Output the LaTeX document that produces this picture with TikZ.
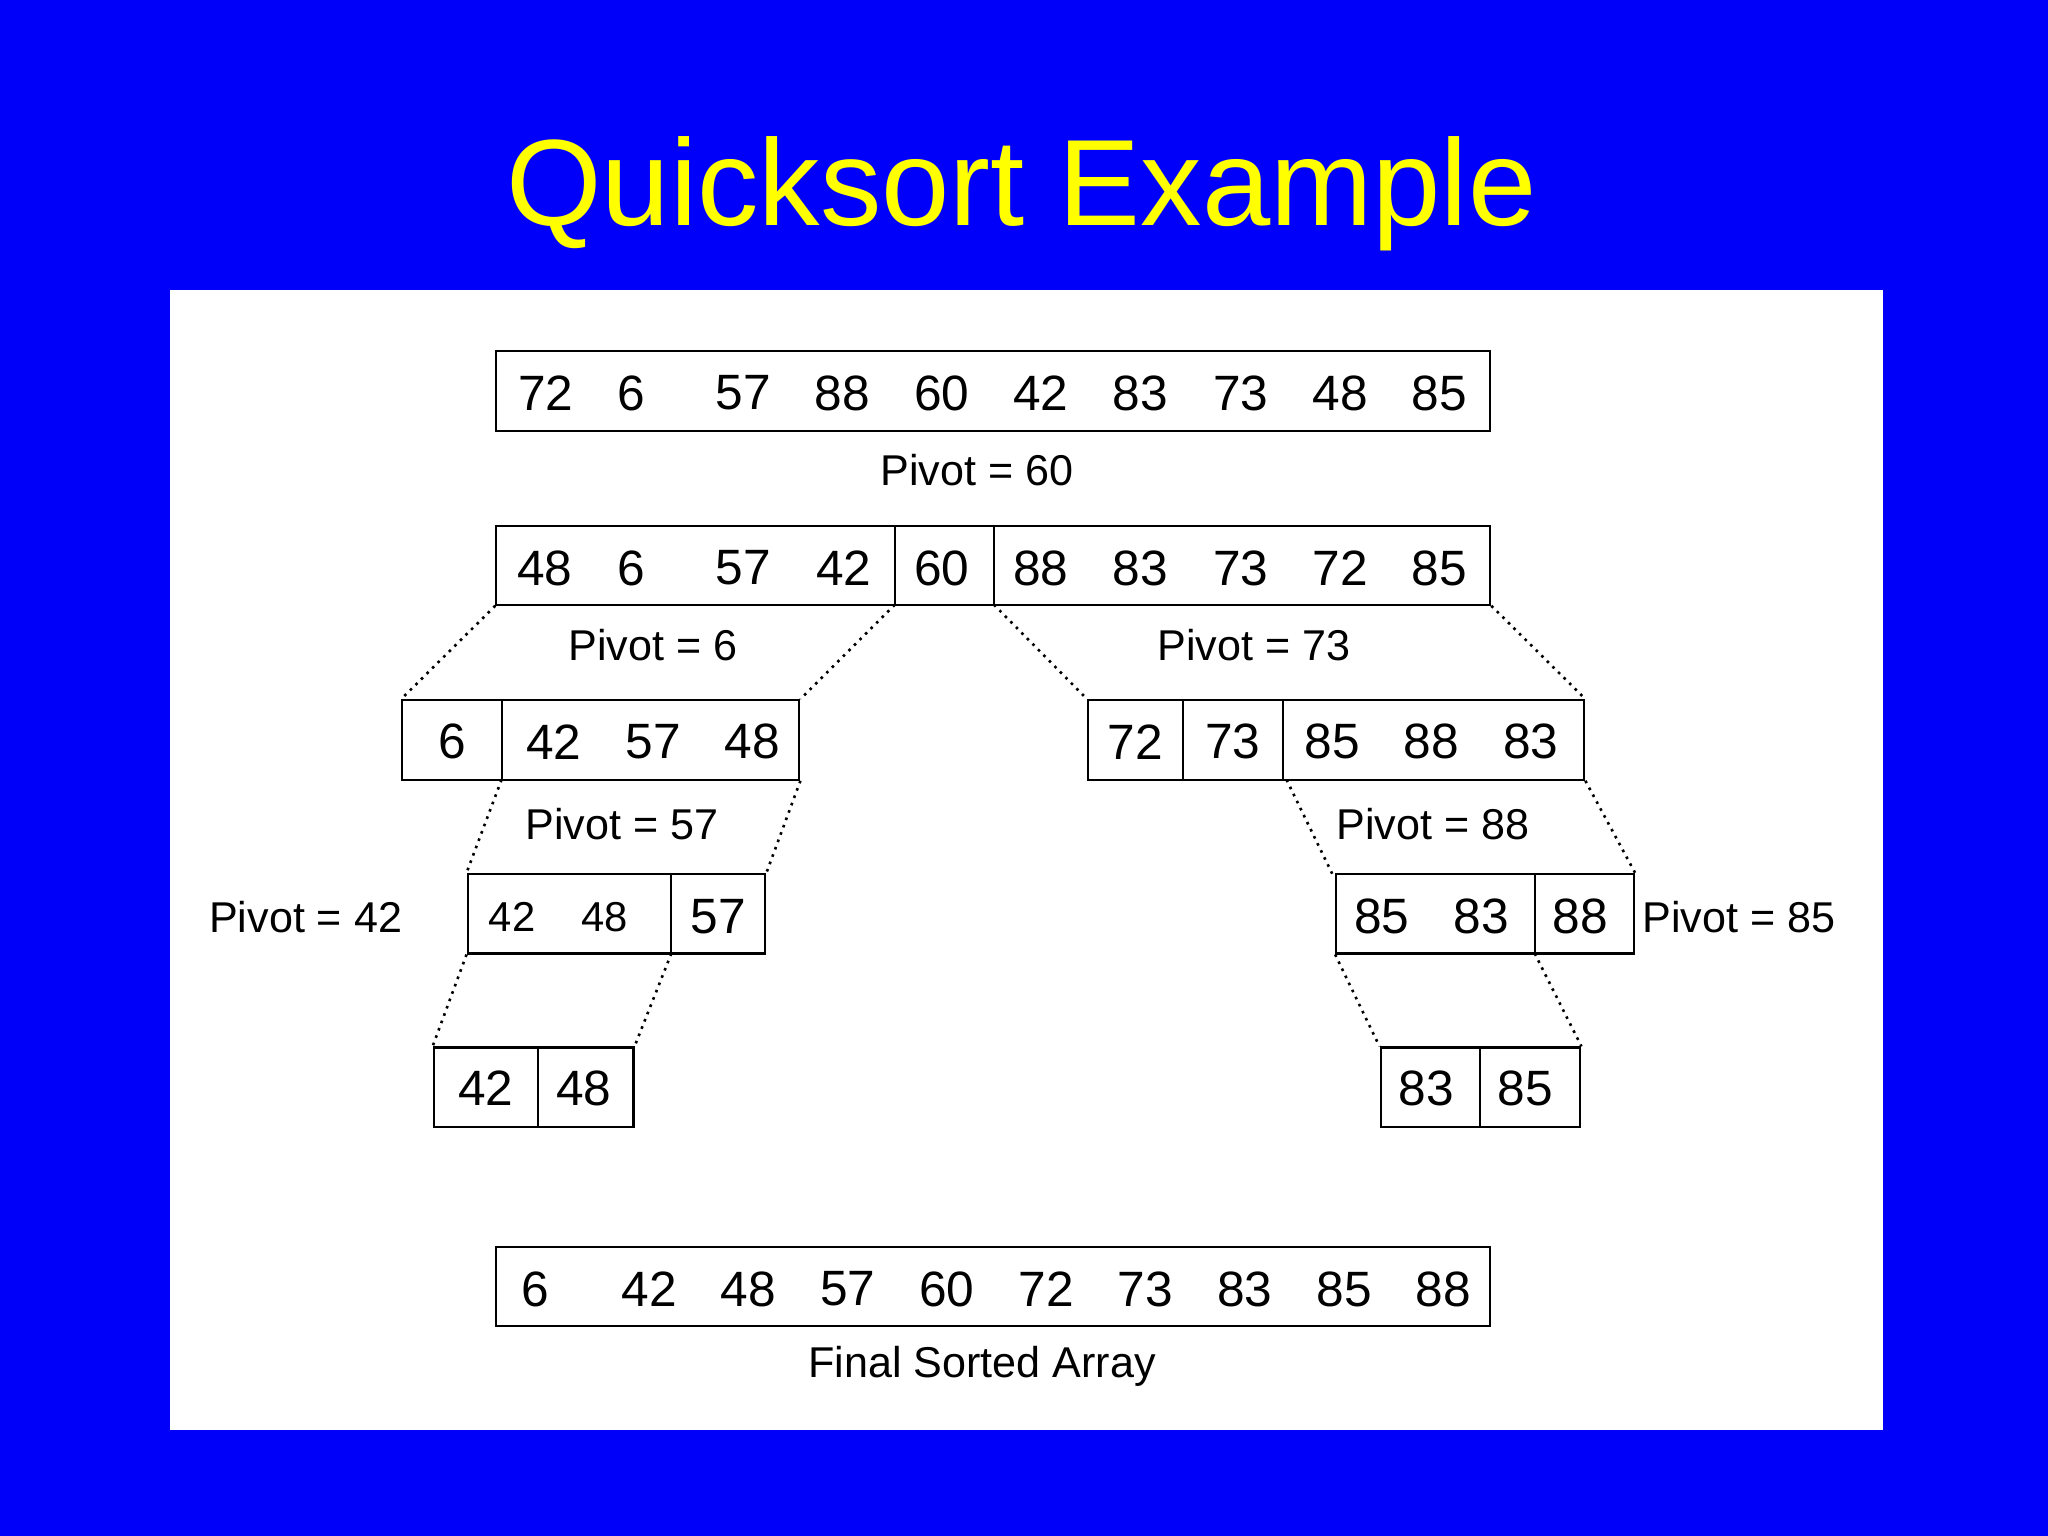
\documentclass[tikz,border=0pt]{standalone}
\usepackage{fontspec}
\setmainfont{Liberation Sans}
\definecolor{bg}{RGB}{0,0,250}
\definecolor{ttl}{RGB}{255,255,0}
\tikzset{
  box/.style={draw=black, line width=0.8pt, inner sep=0pt, fill=none},
  num/.style={font=\fontsize{19}{20}\selectfont, inner sep=0pt},
  sm/.style={font=\fontsize{16}{18}\selectfont, inner sep=0pt},
  lab/.style={font=\fontsize{16.5}{18}\selectfont, inner sep=0pt},
  dots/.style={dotted, line width=1pt},
  dv/.style={line width=0.8pt}
}
\newcommand{\bx}[5]{\node[box, minimum width={(#4-#2)*0.5pt}, minimum height={(#5-#3)*0.5pt}] (#1) at ({(#2+#4)/2},{(#3+#5)/2}) {};}
\newcommand{\nums}[3]{\foreach \xx/\tt [count=\k] in {#3} {\node[num] (#1\k) at (\xx,#2) {\tt};}}
\begin{document}
\begin{tikzpicture}[x=0.5pt,y=-0.5pt]
\fill[bg] (0,0) rectangle (1568,1176);
\useasboundingbox (0,0) rectangle (1568,1176);
\fill[white] (130,222) rectangle (1442,1095);
\node[font=\fontsize{47}{50}\selectfont, text=ttl] (title) at (782,148) {Quicksort Example};
% row 1
\bx{r1}{380}{269}{1141}{330}
\nums{a}{301}{418/72,483/6,569/57,645/88,721/60,797/42,873/83,950/73,1026/48,1102/85}
\node[lab] (p60) at (748,360) {Pivot = 60};
% row 2
\bx{r2}{380}{403}{1141}{463}
\draw[dv] (685,403) -- (685,463) (761,403) -- (761,463);
\nums{b}{435}{417/48,483/6,569/57,646/42,721/60,797/88,873/83,950/73,1026/72,1102/85}
\node[lab] (p6) at (500,494) {Pivot = 6};
\node[lab] (p73) at (960,494) {Pivot = 73};
% row 3
\bx{l3}{308}{536}{612}{597}
\draw[dv] (384,536) -- (384,597);
\nums{c}{568}{346/6,424/42,500/57,576/48}
\bx{r3}{833}{536}{1213}{597}
\draw[dv] (906,536) -- (906,597) (982,536) -- (982,597);
\nums{d}{568}{869/72,944/73,1020/85,1096/88,1172/83}
\draw[dots] (r2.south west) -- (l3.north west);
\draw[dots] (685,463) -- (l3.north east);
\draw[dots] (761,463) -- (r3.north west);
\draw[dots] (r2.south east) -- (r3.north east);
\node[lab] (p57) at (476,631) {Pivot = 57};
\node[lab] (p88) at (1097,631) {Pivot = 88};
% row 4
\bx{l4}{358}{669}{586}{730}
\draw[dv] (514,669) -- (514,730);
\node[sm] (e1) at (392,702) {42};
\node[sm] (e2) at (463,702) {48};
\node[num] (e3) at (550,702) {57};
\node[lab] (p42) at (234,702) {Pivot = 42};
\bx{r4}{1023}{669}{1251}{730}
\draw[dv] (1175,669) -- (1175,730);
\nums{f}{702}{1058/85,1134/83,1210/88}
\node[lab, anchor=west] (p85) at (1257,702) {Pivot = 85};
\draw[dots] (384,597) -- (l4.north west);
\draw[dots] (l3.south east) -- (l4.north east);
\draw[dots] (985,597) -- (1020,669);
\draw[dots] (r3.south east) -- (r4.north east);
% row 5
\bx{l5}{332}{802}{485}{863}
\draw[dv] (412,802) -- (412,863);
\nums{g}{833}{372/42,447/48}
\bx{r5}{1057}{802}{1210}{863}
\draw[dv] (1133,802) -- (1133,863);
\nums{h}{833}{1092/83,1168/85}
\draw[dots] (l4.south west) -- (l5.north west);
\draw[dots] (514,730) -- (l5.north east);
\draw[dots] (r4.south west) -- (r5.north west);
\draw[dots] (1175,730) -- (r5.north east);
% final
\bx{fin}{380}{955}{1141}{1015}
\nums{k}{987}{410/6,497/42,573/48,649/57,725/60,801/72,877/73,953/83,1029/85,1105/88}
\node[lab] (fl) at (752,1046) {Final Sorted Array};
\end{tikzpicture}
\end{document}
